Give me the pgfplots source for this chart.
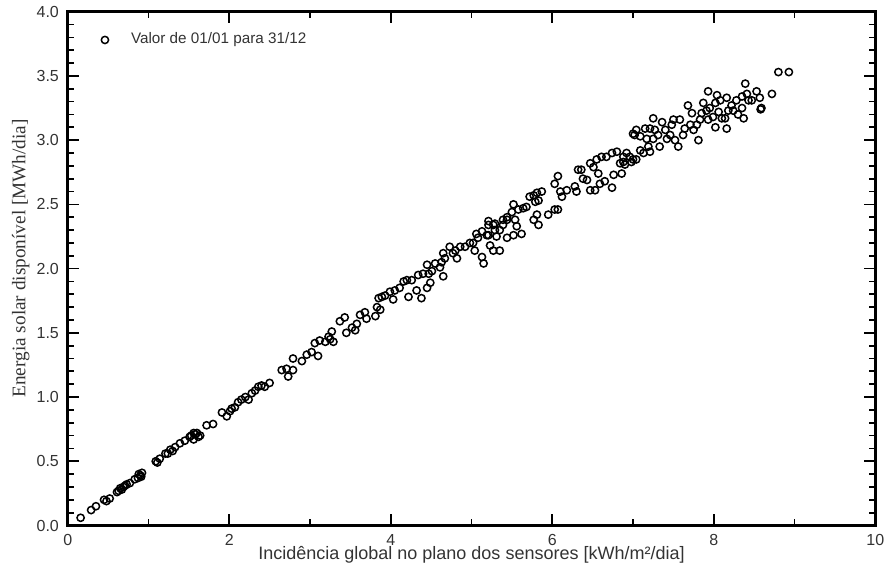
\documentclass[border=0pt]{standalone}
\usepackage{pgfplots}
\pgfplotsset{compat=1.18}
\usepackage{fontspec}
\setmainfont{Liberation Sans}
\newfontfamily\labelserif{Liberation Serif}
\definecolor{textgray}{HTML}{333333}

% Daily values: global irradiation on the sensor plane vs. available solar energy
\pgfplotstableread{
x y
0.16 0.06
0.29 0.12
0.35 0.15
0.45 0.20
0.48 0.19
0.52 0.21
0.61 0.26
0.63 0.27
0.65 0.29
0.67 0.28
0.69 0.30
0.71 0.31
0.73 0.32
0.77 0.33
0.83 0.36
0.87 0.37
0.88 0.40
0.90 0.39
0.91 0.38
0.92 0.41
1.09 0.50
1.11 0.49
1.14 0.52
1.21 0.56
1.24 0.56
1.27 0.59
1.30 0.58
1.33 0.61
1.39 0.64
1.45 0.66
1.51 0.69
1.53 0.70
1.56 0.72
1.58 0.71
1.60 0.72
1.56 0.67
1.62 0.69
1.64 0.70
1.72 0.78
1.80 0.79
1.91 0.88
1.97 0.85
2.01 0.89
2.03 0.91
2.07 0.92
2.11 0.96
2.15 0.98
2.20 1.00
2.24 0.98
2.28 1.03
2.32 1.05
2.36 1.08
2.40 1.09
2.44 1.08
2.50 1.11
2.65 1.21
2.71 1.22
2.73 1.16
2.79 1.21
2.79 1.30
2.90 1.28
2.96 1.33
3.02 1.35
3.10 1.32
3.06 1.42
3.12 1.44
3.19 1.43
3.23 1.47
3.25 1.45
3.27 1.51
3.29 1.43
3.37 1.59
3.43 1.62
3.45 1.50
3.52 1.54
3.56 1.52
3.58 1.57
3.62 1.64
3.68 1.66
3.70 1.61
3.81 1.63
3.83 1.70
3.85 1.77
3.87 1.68
3.89 1.78
3.93 1.79
3.99 1.82
4.03 1.76
4.05 1.83
4.11 1.85
4.16 1.90
4.20 1.91
4.22 1.78
4.26 1.91
4.32 1.83
4.34 1.95
4.38 1.77
4.40 1.96
4.45 1.85
4.49 1.89
4.47 1.96
4.51 1.98
4.45 2.03
4.55 2.04
4.61 2.01
4.65 1.94
4.63 2.05
4.67 2.08
4.65 2.12
4.73 2.17
4.77 2.12
4.82 2.08
4.80 2.14
4.86 2.17
4.92 2.17
4.98 2.20
5.02 2.20
5.04 2.14
5.08 2.24
5.06 2.27
5.13 2.29
5.15 2.04
5.13 2.09
5.19 2.26
5.21 2.34
5.27 2.14
5.31 2.25
5.35 2.14
5.35 2.30
5.39 2.34
5.44 2.38
5.44 2.24
5.29 2.35
5.23 2.18
5.21 2.37
5.27 2.34
5.21 2.26
5.29 2.30
5.39 2.38
5.44 2.40
5.50 2.44
5.52 2.50
5.54 2.38
5.56 2.33
5.52 2.26
5.62 2.27
5.58 2.46
5.64 2.47
5.68 2.48
5.72 2.56
5.77 2.57
5.81 2.59
5.87 2.60
5.79 2.52
5.83 2.53
5.77 2.38
5.81 2.42
5.83 2.34
5.95 2.42
6.03 2.46
6.07 2.46
6.03 2.66
6.07 2.72
6.10 2.60
6.12 2.56
6.18 2.61
6.28 2.64
6.30 2.60
6.32 2.77
6.36 2.77
6.38 2.70
6.43 2.69
6.47 2.82
6.51 2.79
6.55 2.85
6.57 2.74
6.59 2.66
6.65 2.68
6.74 2.63
6.47 2.61
6.53 2.61
6.61 2.87
6.67 2.87
6.74 2.90
6.80 2.91
6.84 2.82
6.88 2.83
6.76 2.73
6.86 2.74
6.88 2.87
6.90 2.81
6.92 2.90
6.96 2.87
6.98 2.83
7.00 2.85
7.04 2.85
7.09 2.92
7.13 2.90
7.00 3.05
7.02 3.04
7.04 3.08
7.09 3.03
7.15 3.09
7.17 3.01
7.19 2.95
7.21 2.91
7.21 3.09
7.25 3.17
7.27 3.08
7.25 3.01
7.31 3.04
7.33 2.95
7.36 3.14
7.40 3.08
7.42 3.01
7.46 3.04
7.48 3.12
7.52 3.00
7.50 3.16
7.56 2.95
7.58 3.16
7.62 3.04
7.64 3.09
7.68 3.27
7.71 3.12
7.73 3.21
7.75 3.08
7.79 3.12
7.81 3.00
7.83 3.16
7.85 3.21
7.87 3.29
7.91 3.23
7.93 3.38
7.93 3.16
7.95 3.25
7.99 3.18
8.02 3.29
8.04 3.35
8.02 3.10
8.06 3.22
8.08 3.31
8.10 3.17
8.14 3.17
8.16 3.09
8.16 3.33
8.18 3.23
8.22 3.27
8.24 3.23
8.28 3.31
8.30 3.20
8.35 3.34
8.35 3.25
8.39 3.44
8.41 3.36
8.43 3.31
8.37 3.17
8.47 3.31
8.53 3.38
8.57 3.33
8.59 3.25
8.58 3.24
8.72 3.36
8.80 3.53
8.93 3.53
}\dailydata

\begin{document}
\begin{tikzpicture}
\useasboundingbox (-27.08pt,-20.2pt) rectangle (327.32pt,210.2pt);
\begin{axis}[
  at={(0pt,0pt)}, anchor=south west,
  scale only axis, width=323.04pt, height=205.52pt,
  xmin=0, xmax=10, ymin=0, ymax=4,
  xtick={0,2,4,6,8,10}, minor xtick={1,3,5,7,9},
  ytick={0,0.5,1,1.5,2,2.5,3,3.5,4},
  minor ytick={0.1,0.2,0.3,0.4,0.6,0.7,0.8,0.9,1.1,1.2,1.3,1.4,1.6,1.7,1.8,1.9,
    2.1,2.2,2.3,2.4,2.6,2.7,2.8,2.9,3.1,3.2,3.3,3.4,3.6,3.7,3.8,3.9},
  xtick pos=both, ytick pos=both,
  xticklabel pos=lower, yticklabel pos=left,
  tick align=inside,
  major tick length=4.6pt, minor tick length=2.6pt,
  axis line style={line width=1.2pt},
  major tick style={draw=black, line width=0.7pt},
  minor tick style={draw=black, line width=0.7pt},
  /pgf/number format/assume math mode=true,
  tick label style={font=\fontsize{6.4}{7}\selectfont, text=textgray},
  yticklabel style={/pgf/number format/.cd, fixed, fixed zerofill, precision=1},
  xticklabel style={/pgf/number format/.cd, fixed, precision=0},
  xlabel={Incidência global no plano dos sensores [kWh/m²/dia]},
  ylabel={Energia solar disponível [MWh/dia]},
  xlabel style={at={(axis description cs:0.5,-0.058)}, anchor=center,
    font=\fontsize{7.2}{8}\selectfont, text=textgray},
  ylabel style={at={(axis description cs:-0.058,0.52)}, anchor=center,
    font=\labelserif\fontsize{7.7}{9}\selectfont, text=textgray},
  legend style={at={(axis description cs:0.041,0.945)}, anchor=west,
    draw=none, fill=none, inner sep=0pt,
    font=\fontsize{6.1}{7}\selectfont, text=textgray,
    /tikz/every odd column/.append style={column sep=7pt}},
  legend image code/.code={\draw[#1] plot coordinates {(0pt,0pt)};},
]
\addplot[only marks, mark=o, mark size=1.45pt, black,
  mark options={line width=0.6pt}] table[x=x, y=y] {\dailydata};
\addlegendentry{Valor de 01/01 para 31/12}
\end{axis}
\end{tikzpicture}
\end{document}
